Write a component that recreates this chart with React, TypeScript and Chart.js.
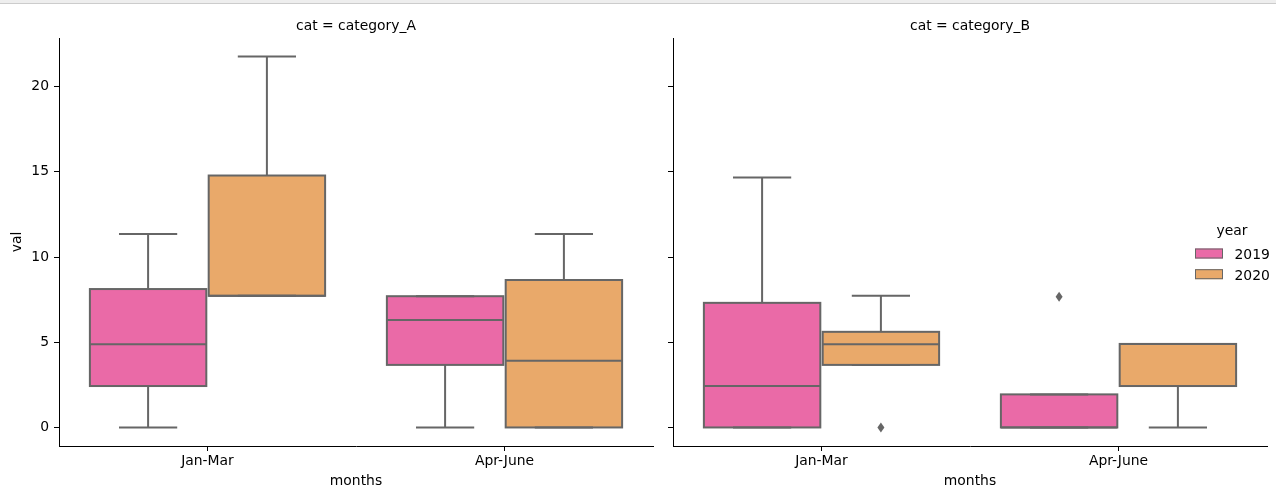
import { useEffect, useRef } from 'react';
import { Chart, registerables } from 'chart.js';

Chart.register(...registerables);

// ---- data -------------------------------------------------------------
const months = ['Jan-Mar', 'Apr-June'];
const years = ['2019', '2020'];
const yearColors = ['#ea6aa7', '#e9a96a'];
const edgeColor = '#666666';
const yTicks = [0, 5, 10, 15, 20];

// category_A box statistics, one value per month
const catA2019Low = [0, 0];
const catA2019Q1 = [2.43, 3.67];
const catA2019Median = [4.88, 6.31];
const catA2019Q3 = [8.12, 7.7];
const catA2019High = [11.35, 7.7];
const catA2019Outliers: number[][] = [[], []];

const catA2020Low = [7.72, 0];
const catA2020Q1 = [7.72, 0];
const catA2020Median = [7.72, 3.92];
const catA2020Q3 = [14.78, 8.65];
const catA2020High = [21.76, 11.35];
const catA2020Outliers: number[][] = [[], []];

// category_B box statistics, one value per month
const catB2019Low = [0, 0];
const catB2019Q1 = [0, 0];
const catB2019Median = [2.43, 0];
const catB2019Q3 = [7.31, 1.94];
const catB2019High = [14.67, 1.94];
const catB2019Outliers: number[][] = [[], [7.67]];

const catB2020Low = [3.67, 0];
const catB2020Q1 = [3.67, 2.43];
const catB2020Median = [4.88, 4.9];
const catB2020Q3 = [5.61, 4.9];
const catB2020High = [7.72, 4.9];
const catB2020Outliers: number[][] = [[0], []];

// ---- helpers ----------------------------------------------------------
type Box = { lo: number[]; q1: number[]; med: number[]; q3: number[]; hi: number[]; out: number[][] };
type Panel = { title: string; series: Box[] };

const panels: Panel[] = [
  {
    title: 'cat = category_A',
    series: [
      { lo: catA2019Low, q1: catA2019Q1, med: catA2019Median, q3: catA2019Q3, hi: catA2019High, out: catA2019Outliers },
      { lo: catA2020Low, q1: catA2020Q1, med: catA2020Median, q3: catA2020Q3, hi: catA2020High, out: catA2020Outliers },
    ],
  },
  {
    title: 'cat = category_B',
    series: [
      { lo: catB2019Low, q1: catB2019Q1, med: catB2019Median, q3: catB2019Q3, hi: catB2019High, out: catB2019Outliers },
      { lo: catB2020Low, q1: catB2020Q1, med: catB2020Median, q3: catB2020Q3, hi: catB2020High, out: catB2020Outliers },
    ],
  },
];

// shared y range: data extent plus a 5% margin on both ends
const allVals = panels.flatMap((p) => p.series.flatMap((s) => [...s.lo, ...s.hi, ...s.out.flat()]));
const dataMin = Math.min(...allVals);
const dataMax = Math.max(...allVals);
const span = dataMax - dataMin;
const yMin = dataMin - span * 0.05;
const yMax = dataMax + span * 0.05;

const FONT = 'DejaVu Sans';
const FS = 13.9;
const W = 1276;
const H = 497;

function boxPlugin(panel: Panel, withLegend: boolean, legendOffsetX: number) {
  return {
    id: 'boxParts',
    afterDatasetsDraw(chart: any) {
      const ctx = chart.ctx as CanvasRenderingContext2D;
      const yScale = chart.scales.y;
      const py = (v: number) => yScale.getPixelForValue(v);
      ctx.save();
      ctx.strokeStyle = edgeColor;
      ctx.fillStyle = edgeColor;
      ctx.lineWidth = 2;
      panel.series.forEach((s, d) => {
        const meta = chart.getDatasetMeta(d);
        meta.data.forEach((el: any, i: number) => {
          const { x, width } = el.getProps(['x', 'width'], true);
          const l = x - width / 2;
          const r = x + width / 2;
          const cap = width / 4;
          ctx.beginPath();
          ctx.moveTo(x, py(s.q1[i]));
          ctx.lineTo(x, py(s.lo[i]));
          ctx.moveTo(x, py(s.q3[i]));
          ctx.lineTo(x, py(s.hi[i]));
          ctx.moveTo(x - cap, py(s.lo[i]));
          ctx.lineTo(x + cap, py(s.lo[i]));
          ctx.moveTo(x - cap, py(s.hi[i]));
          ctx.lineTo(x + cap, py(s.hi[i]));
          ctx.stroke();
          ctx.strokeRect(l, py(s.q3[i]), width, py(s.q1[i]) - py(s.q3[i]));
          ctx.beginPath();
          ctx.moveTo(l, py(s.med[i]));
          ctx.lineTo(r, py(s.med[i]));
          ctx.stroke();
          s.out[i].forEach((v) => {
            const cy = py(v);
            ctx.beginPath();
            ctx.moveTo(x, cy - 5);
            ctx.lineTo(x + 3.5, cy);
            ctx.lineTo(x, cy + 5);
            ctx.lineTo(x - 3.5, cy);
            ctx.closePath();
            ctx.fill();
          });
        });
      });
      ctx.restore();
    },
    afterDraw(chart: any) {
      const ctx = chart.ctx as CanvasRenderingContext2D;
      const ca = chart.chartArea;
      ctx.save();
      ctx.fillStyle = '#000';
      ctx.font = `${FS}px "${FONT}"`;
      ctx.textAlign = 'center';
      ctx.textBaseline = 'alphabetic';
      ctx.fillText(panel.title, (ca.left + ca.right) / 2, 30);
      if (withLegend) {
        const lx = 1195 - legendOffsetX;
        ctx.fillText('year', 1232 - legendOffsetX, 235);
        years.forEach((yr, k) => {
          const top = 248.5 + k * 20.7;
          ctx.fillStyle = yearColors[k];
          ctx.fillRect(lx, top, 28, 10);
          ctx.strokeStyle = edgeColor;
          ctx.lineWidth = 1;
          ctx.strokeRect(lx + 0.5, top + 0.5, 27, 9);
          ctx.fillStyle = '#000';
          ctx.textAlign = 'left';
          ctx.fillText(yr, 1234.5 - legendOffsetX, top + 10.3);
        });
      }
      ctx.restore();
    },
  };
}

function makeConfig(panel: Panel, idx: number, axisWidth: number, padRight: number, offsetX: number): any {
  const font = { family: FONT, size: FS };
  return {
    type: 'bar',
    data: {
      labels: months,
      datasets: panel.series.map((s, d) => ({
        label: years[d],
        data: months.map((_, i) => [s.q1[i], s.q3[i]]),
        backgroundColor: yearColors[d],
        borderWidth: 0,
        categoryPercentage: 0.8,
        barPercentage: 0.98,
      })),
    },
    options: {
      responsive: false,
      animation: false,
      events: [],
      layout: { padding: { top: 38, right: padRight, bottom: 0, left: 0 } },
      plugins: { legend: { display: false }, tooltip: { enabled: false }, title: { display: false } },
      scales: {
        x: {
          type: 'category',
          offset: true,
          afterFit: (scale: any) => {
            scale.height = H - 446;
          },
          grid: { display: true, offset: false, drawOnChartArea: false, drawTicks: true, tickLength: 5, color: '#000', lineWidth: 1 },
          border: { display: true, color: '#000', width: 1 },
          ticks: { font, color: '#000', padding: 2, maxRotation: 0 },
          title: { display: true, text: 'months', font, color: '#000', padding: { top: 0, bottom: 7.5 } },
        },
        y: {
          type: 'linear',
          min: yMin,
          max: yMax,
          afterBuildTicks: (scale: any) => {
            scale.ticks = yTicks.map((v) => ({ value: v }));
          },
          afterFit: (scale: any) => {
            scale.width = axisWidth;
          },
          grid: { display: true, drawOnChartArea: false, drawTicks: true, tickLength: 5, color: '#000', lineWidth: 1 },
          border: { display: true, color: '#000', width: 1 },
          ticks: { display: idx === 0, font, color: '#000', padding: 5 },
          title: { display: idx === 0, text: 'val', font, color: '#000', padding: { top: 9, bottom: 0 } },
        },
      },
    },
    plugins: [boxPlugin(panel, idx === 1, offsetX)],
  };
}

// canvas placement of each facet: [left, width, y-axis width, right padding]
const facetFrames = [
  [0, 660, 59, 7],
  [660, 616, 13, 9],
];

export default function App() {
  const refA = useRef<HTMLCanvasElement | null>(null);
  const refB = useRef<HTMLCanvasElement | null>(null);

  useEffect(() => {
    const refs = [refA, refB];
    const charts = refs.map((r, i) => {
      const [left, , axisW, padR] = facetFrames[i];
      return new Chart(r.current as HTMLCanvasElement, makeConfig(panels[i], i, axisW, padR, left));
    });
    return () => charts.forEach((c) => c.destroy());
  }, []);

  return (
    <div style={{ position: 'fixed', left: 0, top: 0, width: W, height: H, background: '#fff', overflow: 'hidden' }}>
      <canvas
        ref={refA}
        width={facetFrames[0][1]}
        height={H}
        style={{ position: 'absolute', left: facetFrames[0][0], top: 0, width: facetFrames[0][1], height: H }}
      />
      <canvas
        ref={refB}
        width={facetFrames[1][1]}
        height={H}
        style={{ position: 'absolute', left: facetFrames[1][0], top: 0, width: facetFrames[1][1], height: H }}
      />
      <div
        style={{ position: 'absolute', left: 0, top: 0, width: W, height: 3, background: '#eeeeee', borderBottom: '1px solid #cccccc' }}
      />
    </div>
  );
}
